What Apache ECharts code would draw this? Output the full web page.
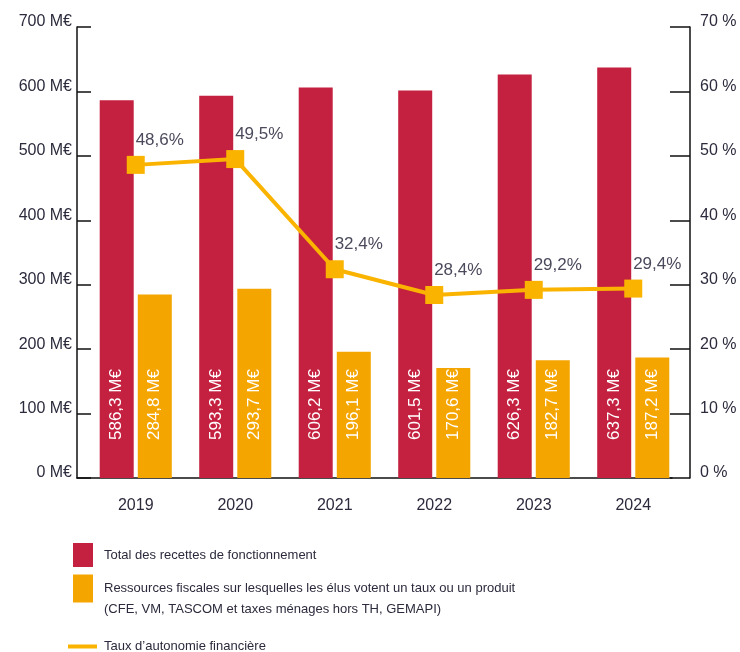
<!DOCTYPE html>
<html>
<head>
<meta charset="utf-8">
<script src="https://cdn.jsdelivr.net/npm/echarts@6/dist/echarts.min.js"></script>
<style>
  html, body { margin: 0; padding: 0; background: #fff; }
  #chart { width: 740px; height: 652px; }
</style>
</head>
<body>
<div id="chart"></div>
<script>
  // données du graphique
  const years = ['2019', '2020', '2021', '2022', '2023', '2024']
  const totalRecettes = [586.3, 593.3, 606.2, 601.5, 626.3, 637.3]
  const ressourcesFiscales = [284.8, 293.7, 196.1, 170.6, 182.7, 187.2]
  const tauxAutonomie = [48.6, 49.5, 32.4, 28.4, 29.2, 29.4]

  const nameTotal = 'Total des recettes de fonctionnement'
  const nameFiscal = 'Ressources fiscales sur lesquelles les élus votent un taux ou un produit\n(CFE, VM, TASCOM et taxes ménages hors TH, GEMAPI)'
  const nameTaux = 'Taux d\u2019autonomie financière'

  const FONT = '"Liberation Sans", "DejaVu Sans", sans-serif'
  const RED = '#c4203f'
  const ORANGE = '#f5a500'
  const YELLOW = '#fab400'
  const TEXT = '#2b2b3d'

  const fmt = (v) => v.toFixed(1).replace('.', ',')

  const barLabel = {
    show: true,
    position: 'insideBottom',
    rotate: 90,
    align: 'left',
    verticalAlign: 'middle',
    distance: 38,
    color: '#fff',
    fontFamily: FONT,
    fontSize: 17,
    formatter: (p) => fmt(p.value) + ' M€'
  }

  const axisLabelBase = {
    color: TEXT,
    fontSize: 16,
    fontFamily: FONT,
    verticalAlign: 'bottom',
    lineHeight: 10
  }

  const chart = echarts.init(document.getElementById('chart'))

  chart.setOption({
    animation: false,
    textStyle: { fontFamily: FONT },
    grid: [
      // zone des barres
      { left: 86, right: 57, top: 27, bottom: 174 },
      // ligne de l'axe horizontal
      { left: 77, right: 68, top: 27, bottom: 174 }
    ],
    legend: [
      {
        data: [{ name: nameTotal, icon: 'rect' }],
        left: 68, top: 538,
        itemWidth: 20, itemHeight: 24,
        textStyle: { fontFamily: FONT, fontSize: 13, color: TEXT, padding: [0, 0, 0, 6] }
      },
      {
        // ligne vide en tête pour descendre le texte sous le carré
        data: [{ name: nameFiscal, icon: 'rect' }],
        left: 68, top: 552,
        itemWidth: 20, itemHeight: 28,
        formatter: (n) => '\n' + n,
        textStyle: { fontFamily: FONT, fontSize: 13, color: TEXT, lineHeight: 21, padding: [0, 0, 0, 6] }
      },
      {
        data: [{ name: nameTaux, icon: 'rect' }],
        left: 63, top: 635,
        itemWidth: 29, itemHeight: 4,
        textStyle: { fontFamily: FONT, fontSize: 13, color: TEXT, padding: [0, 0, 0, 2] }
      }
    ],
    xAxis: [
      {
        type: 'category', gridIndex: 0, data: years,
        axisLine: { show: false },
        axisTick: { show: false },
        axisLabel: { color: TEXT, fontSize: 16, margin: 20, fontFamily: FONT }
      },
      {
        type: 'category', gridIndex: 1, data: years,
        axisLine: { lineStyle: { color: '#111', width: 1.5 } },
        axisTick: { show: false },
        axisLabel: { show: false }
      }
    ],
    yAxis: [
      {
        type: 'value', gridIndex: 0,
        min: 0, max: 700, interval: 100,
        offset: 9,
        axisLine: { show: true, lineStyle: { color: '#111', width: 1.5 } },
        axisTick: { show: true, inside: true, length: 14, lineStyle: { color: '#111', width: 1.5 } },
        splitLine: { show: false },
        axisLabel: Object.assign({ margin: 5, formatter: '{value} M€' }, axisLabelBase)
      },
      {
        type: 'value', gridIndex: 0, position: 'right',
        min: 0, max: 70, interval: 10,
        offset: 7,
        axisLine: { show: true, lineStyle: { color: '#111', width: 1.5 } },
        axisTick: { show: true, inside: true, length: 20, lineStyle: { color: '#111', width: 1.5 } },
        splitLine: { show: false },
        axisLabel: Object.assign({ margin: 10, formatter: '{value} %' }, axisLabelBase)
      },
      { type: 'value', gridIndex: 1, show: false }
    ],
    series: [
      {
        name: nameTotal,
        type: 'bar',
        xAxisIndex: 0, yAxisIndex: 0,
        data: totalRecettes,
        barWidth: 34,
        barGap: '12%',
        itemStyle: { color: RED },
        label: barLabel
      },
      {
        name: nameFiscal,
        type: 'bar',
        xAxisIndex: 0, yAxisIndex: 0,
        data: ressourcesFiscales,
        barWidth: 34,
        barGap: '12%',
        itemStyle: { color: ORANGE },
        label: barLabel
      },
      {
        name: nameTaux,
        type: 'line',
        xAxisIndex: 0, yAxisIndex: 1,
        data: tauxAutonomie,
        symbol: 'rect',
        symbolSize: 18,
        lineStyle: { color: YELLOW, width: 4 },
        itemStyle: { color: YELLOW },
        z: 5,
        label: {
          show: true,
          position: 'top',
          offset: [24, -2],
          color: '#4a4a5c',
          fontSize: 17,
          fontFamily: FONT,
          formatter: (p) => fmt(p.value) + '%'
        }
      }
    ]
  })
</script>
</body>
</html>
